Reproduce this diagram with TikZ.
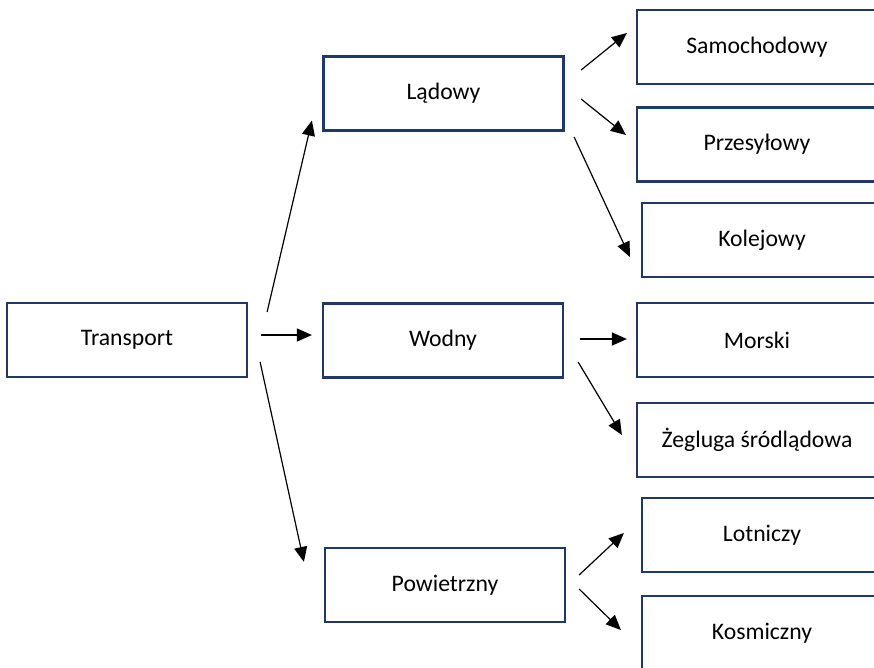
\documentclass[tikz,border=0pt]{standalone}
\usepackage{fontspec}
\setmainfont{Carlito}
\usetikzlibrary{arrows.meta}
\definecolor{boxline}{HTML}{1F3864}
\begin{document}
\begin{tikzpicture}[x=1pt,y=-1pt,
  cat/.style={draw=boxline, line width=2.2pt, fill=white, minimum width=240pt,
    minimum height=74pt, inner sep=0pt, font=\fontsize{23.7}{28}\selectfont},
  arr/.style={-{Triangle[length=15pt,width=13pt]}, line width=1.2pt, black}]
\useasboundingbox (0,0) rectangle (874,667);
\clip (0,0) rectangle (874,667);
\fill[white] (0,0) rectangle (874,667);

% root and first level
\node[cat] (tr)  at (127,340)   {Transport};
\node[cat] (lad) at (443.5,93.5) {Lądowy};
\node[cat] (wod) at (443,340.5) {Wodny};
\node[cat] (pow) at (445,585)   {Powietrzny};

% second level
\node[cat] (sam) at (757,47)    {Samochodowy};
\node[cat] (prz) at (757,144.5) {Przesyłowy};
\node[cat] (kol) at (762,240)   {Kolejowy};
\node[cat] (mor) at (757,340)   {Morski};
\node[cat] (zeg) at (757,440)   {Żegluga śródlądowa};
\node[cat] (lot) at (762,535)   {Lotniczy};
\node[cat] (kos) at (762,633)   {Kosmiczny};

% connectors from the root
\draw[arr] ([shift={(19,-28)}]tr.east) -- ([shift={(-10.5,-11)}]lad.south west);
\draw[arr] ([shift={(13,-5)}]tr.east)  -- ([shift={(-10,-5.5)}]wod.west);
\draw[arr] ([shift={(12,22)}]tr.east)  -- ([shift={(-20,15)}]pow.north west);

% land transport
\draw[arr] ([shift={(16.5,-23.5)}]lad.east) -- ([shift={(-9,-14)}]sam.west);
\draw[arr] ([shift={(16.5,5.5)}]lad.east)   -- ([shift={(-10,-9.5)}]prz.west);
\draw[arr] ([shift={(9.5,43.5)}]lad.east)   -- ([shift={(-11,17)}]kol.west);

% water transport
\draw[arr] ([shift={(16,-1.5)}]wod.east) -- ([shift={(-9,-1)}]mor.west);
\draw[arr] ([shift={(14,21.5)}]wod.east) -- ([shift={(-14,-5)}]zeg.west);

% air transport
\draw[arr] ([shift={(13,-10)}]pow.east) -- ([shift={(-17,-2)}]lot.west);
\draw[arr] ([shift={(13,4)}]pow.east)   -- ([shift={(-20,-3)}]kos.west);
\end{tikzpicture}
\end{document}
